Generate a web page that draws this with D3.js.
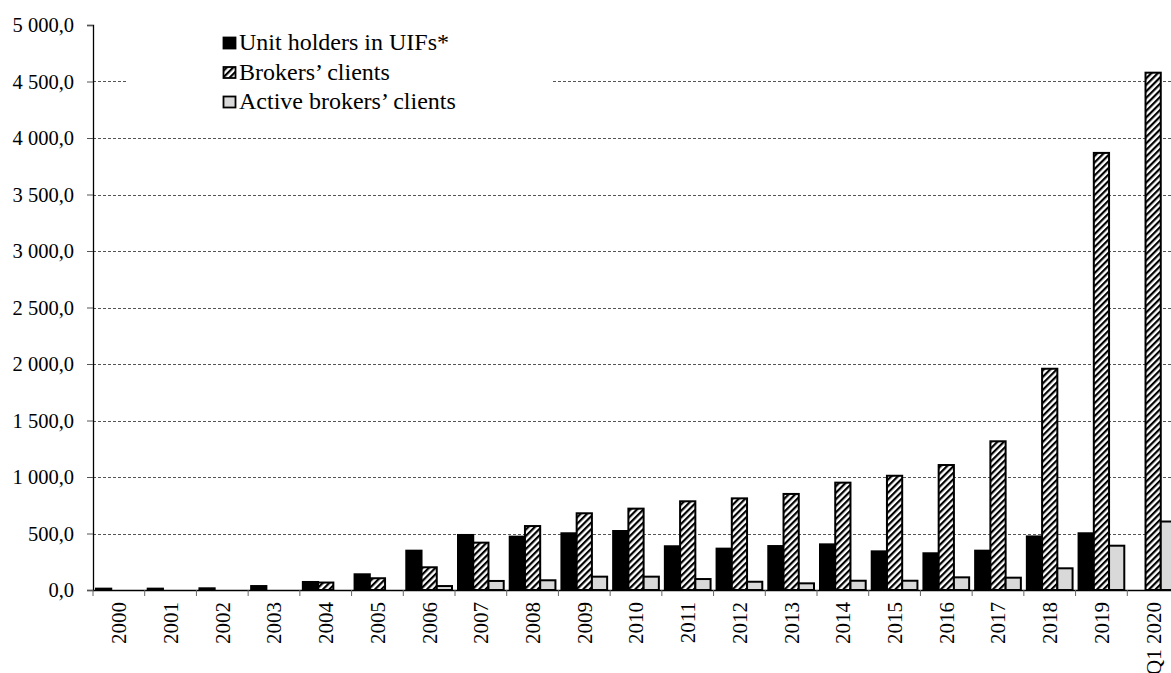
<!DOCTYPE html>
<html>
<head>
<meta charset="utf-8">
<script src="https://cdn.jsdelivr.net/npm/d3@7"></script>
<style>
  html, body { margin: 0; padding: 0; background: #fff; overflow: hidden; }
  svg text { font-family: "Liberation Serif", "Times New Roman", Times, "DejaVu Serif", serif; }
</style>
</head>
<body>
<svg id="chart" width="1171" height="673"></svg>
<script>
// Number of clients, thousands
const categories = ["2000","2001","2002","2003","2004","2005","2006","2007","2008","2009","2010",
  "2011","2012","2013","2014","2015","2016","2017","2018","2019","Q1 2020"];
const unitHolders = [12, 12, 15, 35, 71, 139, 348, 487, 472, 502, 522,
  387, 366, 389, 404, 342, 325, 348, 474, 502, null];
const brokersClients = [null, null, null, null, 66, 104, 201, 419, 566, 679, 720,
  785, 811, 850, 950, 1011, 1106, 1316, 1958, 3868, 4578];
const activeClients = [null, null, null, null, null, null, 35, 80, 86, 118, 118,
  97, 73, 59, 82, 82, 112, 109, 192, 392, 606];
const seriesNames = ["Unit holders in UIFs*", "Brokers\u2019 clients", "Active brokers\u2019 clients"];
const yTicks = [0, 500, 1000, 1500, 2000, 2500, 3000, 3500, 4000, 4500, 5000];

const svg = d3.select("#chart");
const plot = { left: 93, right: 1179, top: 25, bottom: 590 };
const serif = "'Liberation Serif', 'Times New Roman', Times, 'DejaVu Serif', serif";

// Diagonal hatch for brokers' clients
const defs = svg.append("defs");
const pat = defs.append("pattern")
  .attr("id", "hatch")
  .attr("patternUnits", "userSpaceOnUse")
  .attr("width", 4.6).attr("height", 4.6)
  .attr("patternTransform", "rotate(45)");
pat.append("rect").attr("width", 4.6).attr("height", 4.6).attr("fill", "#fff");
pat.append("rect").attr("x", 0).attr("y", 0).attr("width", 2.2).attr("height", 4.6).attr("fill", "#000");

const x = d3.scaleBand().domain(categories).range([plot.left, plot.right]).paddingInner(0).paddingOuter(0);
const sub = d3.scaleBand().domain([0, 1, 2]).range([3, x.bandwidth() - 3]).padding(0);
const y = d3.scaleLinear().domain([0, 5000]).range([plot.bottom, plot.top]);

// "4 500,0" style: space as thousands separator, comma as decimal mark
const fmt = v => {
  const [ip, dp] = d3.format(".1f")(v).split(".");
  return ip.replace(/\B(?=(\d{3})+(?!\d))/g, " ") + "," + dp;
};

// Gridlines
svg.append("g").selectAll("line")
  .data(yTicks.filter(t => t > 0 && t < 5000))
  .join("line")
  .attr("x1", plot.left).attr("x2", 1171)
  .attr("y1", d => Math.round(y(d)) + 0.5).attr("y2", d => Math.round(y(d)) + 0.5)
  .attr("stroke", "#555").attr("stroke-width", 1).attr("stroke-dasharray", "3,2");

// Bars
const series = [
  { values: unitHolders, fill: "#000" },
  { values: brokersClients, fill: "url(#hatch)" },
  { values: activeClients, fill: "#d9d9d9" }
];
series.forEach((s, i) => {
  svg.append("g").selectAll("rect")
    .data(categories.map((c, j) => ({ c, v: s.values[j] })).filter(d => d.v != null))
    .join("rect")
    .attr("x", d => x(d.c) + sub(i))
    .attr("y", d => y(d.v))
    .attr("width", sub.bandwidth())
    .attr("height", d => y(0) - y(d.v))
    .attr("fill", s.fill)
    .attr("stroke", "#000")
    .attr("stroke-width", 2);
});

// Legend (white box hides the gridline behind it)
const lg = svg.append("g");
lg.append("rect").attr("x", 128).attr("y", 28).attr("width", 423).attr("height", 92).attr("fill", "#fff");
const lgFills = ["#000", "url(#hatch)", "#d9d9d9"];
seriesNames.forEach((n, i) => {
  const base = 50 + i * 29.5;
  lg.append("rect").attr("x", 223.5).attr("y", base - 12.5).attr("width", 12).attr("height", 11)
    .attr("fill", lgFills[i]).attr("stroke", "#000").attr("stroke-width", 1.8);
  lg.append("text").attr("x", 239).attr("y", base)
    .style("font-family", serif).style("font-size", "24px").attr("fill", "#000").text(n);
});

// Y axis
const yAxis = svg.append("g").attr("transform", `translate(${plot.left},0)`)
  .call(d3.axisLeft(y).tickValues(yTicks).tickFormat(fmt).tickSize(6).tickPadding(13));
yAxis.attr("font-family", null).attr("font-size", null);
yAxis.select(".domain").attr("stroke", "#000").attr("stroke-width", 1.3);
yAxis.selectAll(".tick line").attr("stroke", "#555");
yAxis.selectAll("text").style("font-size", "20.5px").style("font-family", serif).attr("fill", "#000");

// X axis
const xAxis = svg.append("g").attr("transform", `translate(0,${plot.bottom})`)
  .call(d3.axisBottom(x).tickSize(0).tickFormat(d => d));
xAxis.attr("font-family", null).attr("font-size", null);
xAxis.select(".domain").attr("stroke", "#000").attr("stroke-width", 1.5);
xAxis.selectAll(".tick text")
  .style("font-size", "21px").style("font-family", serif).attr("fill", "#000")
  .attr("transform", "rotate(-90)")
  .attr("text-anchor", "end")
  .attr("x", -12).attr("y", 0).attr("dy", "0.35em");
// Category separators
svg.append("g").selectAll("line")
  .data(categories.concat(["end"]))
  .join("line")
  .attr("x1", (d, i) => plot.left + i * x.step()).attr("x2", (d, i) => plot.left + i * x.step())
  .attr("y1", plot.bottom).attr("y2", plot.bottom + 6)
  .attr("stroke", "#666").attr("stroke-width", 1);
</script>
</body>
</html>
